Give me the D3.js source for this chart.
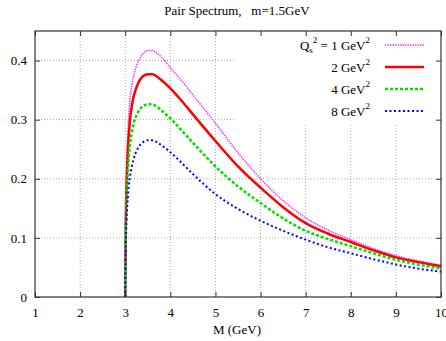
<!DOCTYPE html>
<html><head><meta charset="utf-8">
<script src="https://cdn.jsdelivr.net/npm/d3@7"></script>
<style>body{margin:0;background:#fff}svg text{font-family:"Liberation Serif","Times New Roman",serif;fill:#000}</style>
</head><body><svg id="c" width="446" height="341"></svg>
<script>
const masses = [3.0,3.01,3.03,3.06,3.1,3.15,3.2,3.3,3.4,3.5,3.6,3.7,3.8,4.0,4.25,4.5,5,5.5,6,6.5,7,7.5,8,8.5,9,9.5,10];
const q1 = [0,0.12,0.21,0.28,0.33,0.36,0.378,0.400,0.412,0.417,0.417,0.413,0.406,0.388,0.366,0.342,0.294,0.244,0.200,0.163,0.134,0.113,0.097,0.082,0.070,0.061,0.054];
const q2 = [0,0.11,0.19,0.25,0.295,0.325,0.343,0.364,0.374,0.377,0.377,0.373,0.367,0.353,0.332,0.309,0.264,0.221,0.185,0.152,0.125,0.107,0.093,0.079,0.067,0.059,0.052];
const q4 = [0,0.095,0.165,0.215,0.255,0.28,0.297,0.315,0.323,0.326,0.326,0.322,0.316,0.302,0.282,0.261,0.221,0.187,0.159,0.133,0.112,0.098,0.086,0.074,0.063,0.055,0.048];
const q8 = [0,0.075,0.13,0.17,0.20,0.222,0.237,0.254,0.262,0.265,0.265,0.262,0.257,0.245,0.227,0.208,0.174,0.149,0.129,0.112,0.097,0.084,0.074,0.064,0.055,0.048,0.043];
const seriesNames = ["1","2","4","8"];
const xTicks = [1,2,3,4,5,6,7,8,9,10];
const yTicks = [0,0.1,0.2,0.3,0.4];
const title = "Pair Spectrum,   m=1.5GeV";
const xLabel = "M (GeV)";

const FF="'Liberation Serif','Times New Roman',serif";
const L=35,R=441,T=31,B=297;
const svg=d3.select("#c");
const x=d3.scaleLinear().domain([1,10]).range([L,R]);
const y=d3.scaleLinear().domain([0,0.45]).range([B,T]);

// grid
const g=svg.append("g");
g.selectAll(".gx").data(xTicks.slice(1,-1)).enter().append("line")
 .attr("x1",d=>x(d)).attr("x2",d=>x(d)).attr("y1",B).attr("y2",T)
 .attr("stroke","#aaa").attr("stroke-width",1).attr("stroke-dasharray","1,2");
g.selectAll(".gy").data(yTicks.slice(1)).enter().append("line")
 .attr("x1",L).attr("x2",R).attr("y1",d=>y(d)).attr("y2",d=>y(d))
 .attr("stroke","#aaa").attr("stroke-width",1).attr("stroke-dasharray","1,2");

// legend background (opaque)
svg.append("rect").attr("x",236).attr("y",T).attr("width",R-236).attr("height",92).attr("fill","#fff");

// curves
const styles=[
 {data:q1,color:"#ff33ff",w:1.5,dash:"1.5,1"},
 {data:q2,color:"#ff0000",w:2.5,dash:null},
 {data:q4,color:"#00e000",w:2.5,dash:"3,2"},
 {data:q8,color:"#0000ff",w:2,dash:"2,2.5"}
];
const line=d3.line().x((d,i)=>x(masses[i])).y(d=>y(d)).curve(d3.curveMonotoneX);
svg.append("clipPath").attr("id","pc").append("rect").attr("x",L).attr("y",T).attr("width",R-L).attr("height",B-T);
styles.forEach(s=>{
 svg.append("path").datum(s.data).attr("d",line).attr("fill","none")
  .attr("stroke",s.color).attr("stroke-width",s.w)
  .attr("stroke-dasharray",s.dash).attr("clip-path","url(#pc)");
});

// axes with inward ticks
const axB=d3.axisBottom(x).tickValues(xTicks).tickSize(-5).tickPadding(11).tickFormat(d3.format("d"));
const axL=d3.axisLeft(y).tickValues(yTicks).tickSize(-5).tickPadding(8).tickFormat(d=>d===0?"0":d3.format(".1f")(d));
const axT=d3.axisTop(x).tickValues(xTicks).tickSize(-5).tickFormat("");
const axR=d3.axisRight(y).tickValues(yTicks).tickSize(-5).tickFormat("");
function st(sel){sel.attr("font-family",FF);sel.select(".domain").remove();sel.selectAll("line").attr("stroke","#333");sel.selectAll("text").attr("font-size",13).attr("font-family",FF).attr("fill","#000");}
svg.append("g").attr("transform",`translate(0,${B})`).call(axB).call(st);
svg.append("g").attr("transform",`translate(${L},0)`).call(axL).call(st);
svg.append("g").attr("transform",`translate(0,${T})`).call(axT).call(st);
svg.append("g").attr("transform",`translate(${R},0)`).call(axR).call(st);
svg.append("rect").attr("x",L).attr("y",T).attr("width",R-L).attr("height",B-T).attr("fill","none").attr("stroke","#333").attr("stroke-width",1.2);

// title & label
svg.append("text").attr("x",237).attr("y",15).attr("text-anchor","middle").attr("font-size",13).attr("font-family",FF).style("white-space","pre").text(title);
svg.append("text").attr("x",237).attr("y",334).attr("text-anchor","middle").attr("font-size",13).attr("font-family",FF).text(xLabel);

// legend
const rowsY=[50,72,94,116];
styles.forEach((s,i)=>{
 const t=svg.append("text").attr("x",370).attr("y",rowsY[i]).attr("text-anchor","end").attr("font-size",13).attr("font-family",FF);
 if(i===0){
  t.append("tspan").text("Q");
  t.append("tspan").attr("font-size",9).attr("dy",3).text("s");
  t.append("tspan").attr("font-size",9).attr("dy",-10).text("2");
  t.append("tspan").attr("dy",7).text(" = "+seriesNames[i]+" GeV");
 } else {
  t.append("tspan").text(seriesNames[i]+" GeV");
 }
 t.append("tspan").attr("font-size",9).attr("dy",-7).text("2");
 svg.append("line").attr("x1",385).attr("x2",424).attr("y1",rowsY[i]-5).attr("y2",rowsY[i]-5)
  .attr("stroke",s.color).attr("stroke-width",s.w).attr("stroke-dasharray",s.dash);
});
</script></body></html>
